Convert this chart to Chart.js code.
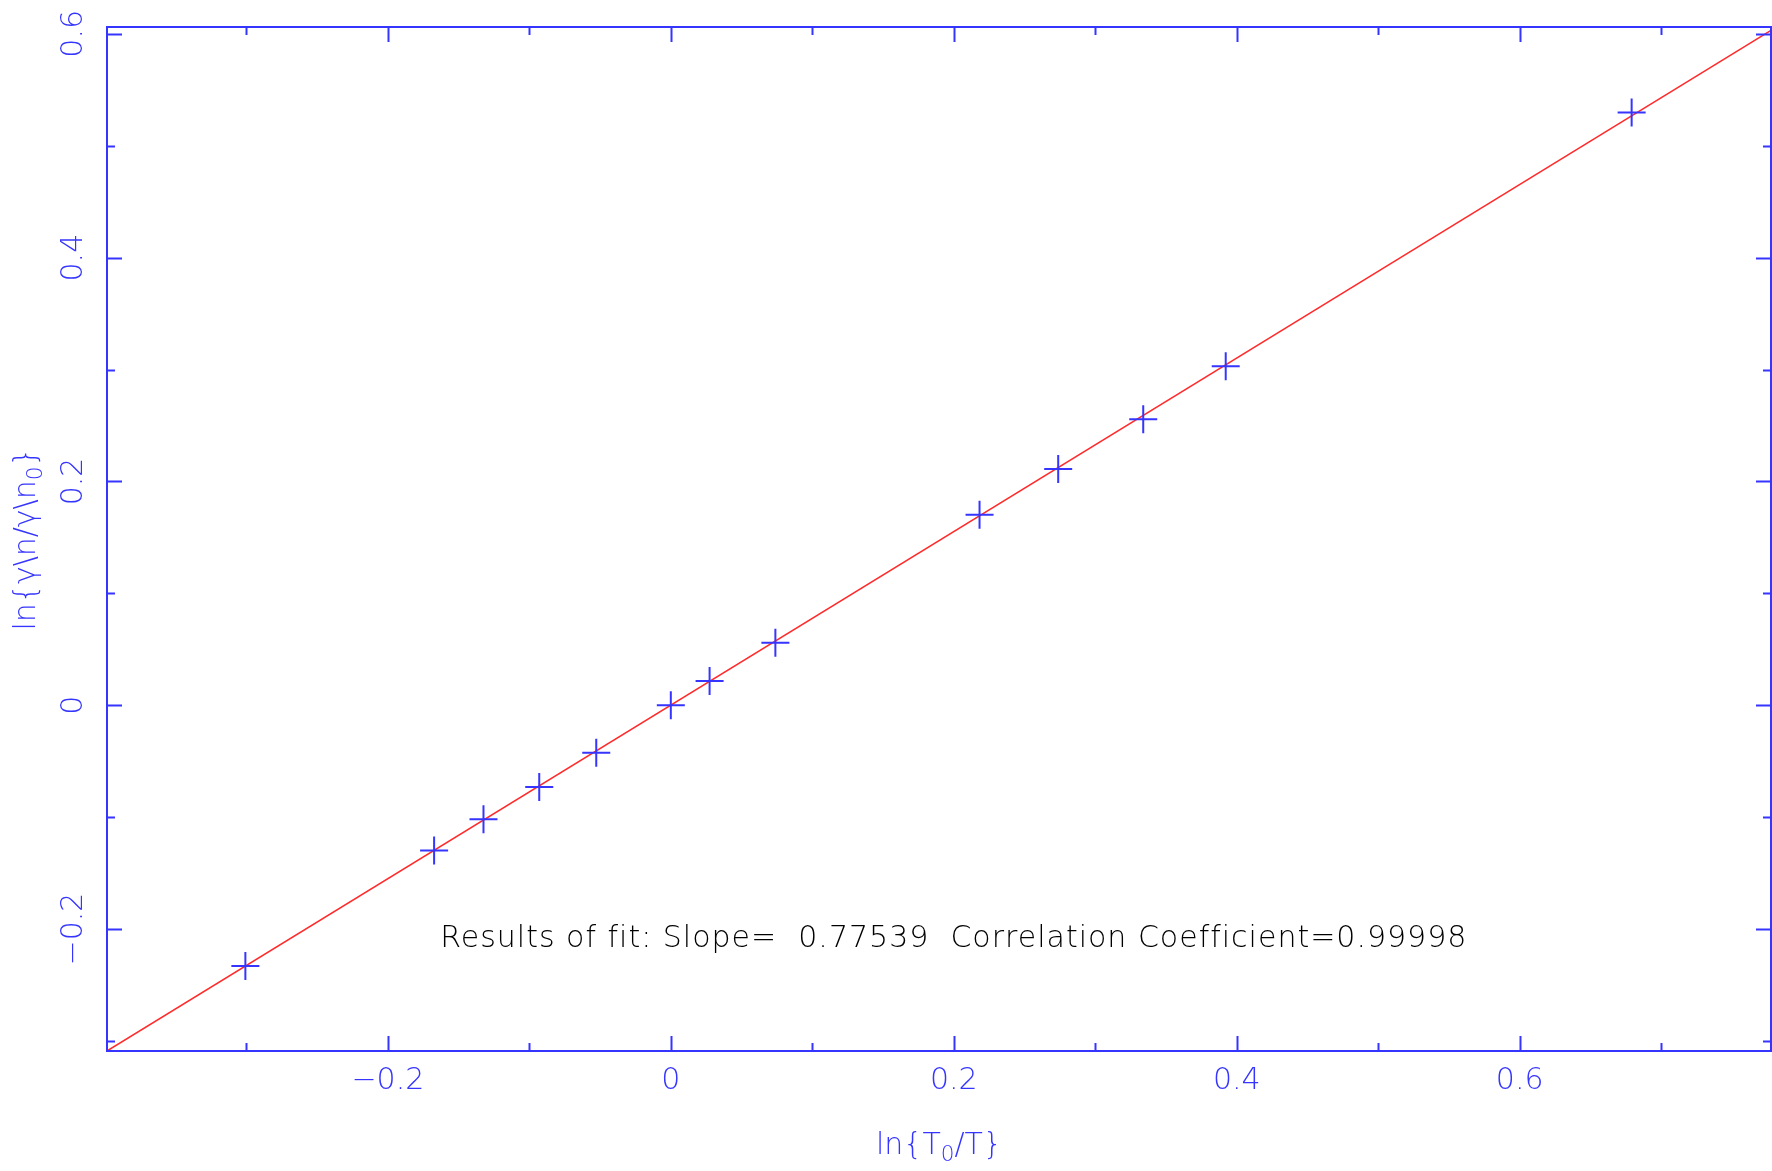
<!DOCTYPE html>
<html>
<head>
<meta charset="utf-8">
<script src="https://cdn.jsdelivr.net/npm/chart.js@4/dist/chart.umd.min.js"></script>
<style>
html,body{margin:0;padding:0;background:#fff;overflow:hidden;}
canvas{display:block;}
</style>
</head>
<body>
<canvas id="c" width="1772" height="1171"></canvas>
<script>
// ---- data ----
const xValues = [-0.3007, -0.1673, -0.1324, -0.0930, -0.0527, 0.0000, 0.0274, 0.0739, 0.2182, 0.2738, 0.3339, 0.3922, 0.6791];
const yValues = [-0.2331, -0.1299, -0.1020, -0.0731, -0.0424, 0.0000, 0.0216, 0.0559, 0.1703, 0.2111, 0.2555, 0.3029, 0.5298];
const fitX = [-0.3985, 0.7776];
const fitY = [-0.3090, 0.6030];
const xMajorTicks = [-0.2, 0, 0.2, 0.4, 0.6];
const xMinorTicks = [-0.3, -0.1, 0.1, 0.3, 0.5, 0.7];
const xTickLabels = ['\u22120.2', '0', '0.2', '0.4', '0.6'];
const yMajorTicks = [-0.2, 0, 0.2, 0.4, 0.6];
const yMinorTicks = [-0.3, -0.1, 0.1, 0.3, 0.5];
const yTickLabels = ['\u22120.2', '0', '0.2', '0.4', '0.6'];
const xRange = [-0.3985, 0.7776];
const yRange = [-0.309, 0.6061];
const xTitle = [['ln{T', false], ['0', true], ['/T}', false]];
const yTitle = [['ln{\u03b3\\n/\u03b3\\n', false], ['0', true], ['}', false]];
const fitText = 'Results of fit: Slope=  0.77539  Correlation Coefficient=0.99998';
const fitTextPos = {x: 0.2, y: -0.209};

const BLUE = '#3535ff';
const FONT = '"DejaVu Sans", sans-serif';

function drawRich(ctx, parts, size) {
  const subSize = size * 0.72;
  let total = 0;
  const widths = parts.map(([t, sub]) => {
    ctx.font = `200 ${sub ? subSize : size}px ${FONT}`;
    const w = ctx.measureText(t).width;
    total += w;
    return w;
  });
  let x = -total / 2;
  parts.forEach(([t, sub], i) => {
    ctx.font = `200 ${sub ? subSize : size}px ${FONT}`;
    ctx.textAlign = 'left';
    ctx.textBaseline = 'middle';
    ctx.fillText(t, x, sub ? size * 0.32 : 0);
    x += widths[i];
  });
}

const framePlugin = {
  id: 'frame',
  afterDatasetsDraw(chart) {
    const ctx = chart.ctx;
    const a = chart.chartArea;
    const xs = chart.scales.x, ys = chart.scales.y;
    ctx.save();
    ctx.strokeStyle = BLUE;
    ctx.fillStyle = BLUE;
    ctx.lineWidth = 2;
    ctx.strokeRect(a.left, a.top, a.right - a.left, a.bottom - a.top);
    ctx.beginPath();
    const tick = (v, len, axis) => {
      if (axis === 'x') {
        const p = Math.round(xs.getPixelForValue(v)) + 0.5;
        ctx.moveTo(p, a.bottom); ctx.lineTo(p, a.bottom - len);
        ctx.moveTo(p, a.top); ctx.lineTo(p, a.top + len);
      } else {
        const p = Math.round(ys.getPixelForValue(v)) + 0.5;
        ctx.moveTo(a.left, p); ctx.lineTo(a.left + len, p);
        ctx.moveTo(a.right, p); ctx.lineTo(a.right - len, p);
      }
    };
    xMajorTicks.forEach(v => tick(v, 15, 'x'));
    xMinorTicks.forEach(v => tick(v, 8, 'x'));
    yMajorTicks.forEach(v => tick(v, 15, 'y'));
    yMinorTicks.forEach(v => tick(v, 8, 'y'));
    ctx.stroke();

    ctx.font = `200 30px ${FONT}`;
    ctx.textAlign = 'center';
    ctx.textBaseline = 'middle';
    xMajorTicks.forEach((v, i) => {
      ctx.fillText(xTickLabels[i], xs.getPixelForValue(v), 1081);
    });
    yMajorTicks.forEach((v, i) => {
      ctx.save();
      ctx.translate(74, ys.getPixelForValue(v));
      ctx.rotate(-Math.PI / 2);
      ctx.fillText(yTickLabels[i], 0, 0);
      ctx.restore();
    });

    ctx.save();
    ctx.translate((a.left + a.right) / 2, 1146);
    drawRich(ctx, xTitle, 30);
    ctx.restore();
    ctx.save();
    ctx.translate(27, (a.top + a.bottom) / 2);
    ctx.rotate(-Math.PI / 2);
    drawRich(ctx, yTitle, 30);
    ctx.restore();

    ctx.fillStyle = '#000';
    ctx.font = `200 30px ${FONT}`;
    ctx.letterSpacing = '1px';
    ctx.textAlign = 'center';
    ctx.textBaseline = 'middle';
    ctx.fillText(fitText, xs.getPixelForValue(fitTextPos.x), ys.getPixelForValue(fitTextPos.y));
    ctx.restore();
  }
};

new Chart(document.getElementById('c'), {
  type: 'scatter',
  data: {
    datasets: [
      {
        label: 'fit',
        type: 'line',
        data: fitX.map((x, i) => ({x, y: fitY[i]})),
        borderColor: '#ff2a2a',
        borderWidth: 1.5,
        pointRadius: 0,
        fill: false,
        order: 2
      },
      {
        label: 'data',
        data: xValues.map((x, i) => ({x, y: yValues[i]})),
        pointStyle: 'cross',
        pointRadius: 14,
        pointHoverRadius: 14,
        borderColor: BLUE,
        backgroundColor: BLUE,
        pointBorderWidth: 2,
        borderWidth: 2,
        showLine: false,
        order: 1
      }
    ]
  },
  options: {
    responsive: false,
    animation: false,
    events: [],
    layout: {autoPadding: false, padding: {left: 107, top: 27, right: 1, bottom: 120}},
    plugins: {legend: {display: false}, tooltip: {enabled: false}},
    scales: {
      x: {type: 'linear', min: xRange[0], max: xRange[1], display: false},
      y: {type: 'linear', min: yRange[0], max: yRange[1], display: false}
    }
  },
  plugins: [framePlugin]
});
</script>
</body>
</html>
